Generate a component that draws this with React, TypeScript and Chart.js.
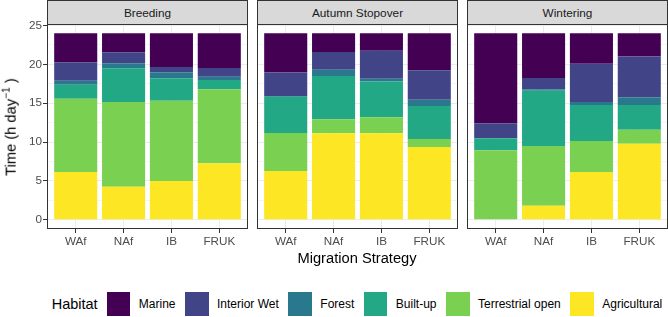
import React, { useEffect, useRef } from 'react';
import { Chart, registerables } from 'chart.js';

Chart.register(...registerables);

// ---------- data ----------
const seasons = ['Breeding', 'Autumn Stopover', 'Wintering'];
const strategies = ['WAf', 'NAf', 'IB', 'FRUK'];
const habitats = ['Marine', 'Interior Wet', 'Forest', 'Built-up', 'Terrestrial open', 'Agricultural'];
const habitatColors = ['#440154', '#414487', '#2A788E', '#22A884', '#7AD151', '#FDE725'];

// hours per day, [season][strategy]
const marine = [
  [3.74, 2.45, 4.33, 4.46],
  [5.06, 2.40, 2.23, 4.76],
  [11.59, 5.75, 3.91, 3.00],
];
const interiorWet = [
  [2.36, 1.41, 0.69, 1.12],
  [3.02, 2.28, 3.61, 3.78],
  [1.88, 1.46, 4.93, 5.24],
];
const forest = [
  [0.51, 0.65, 0.78, 0.43],
  [0.08, 0.82, 0.38, 0.82],
  [0.05, 0.17, 0.39, 0.99],
];
const builtUp = [
  [1.81, 4.33, 2.87, 1.20],
  [4.68, 5.58, 4.60, 4.25],
  [1.55, 7.13, 4.64, 3.18],
];
const terrestrialOpen = [
  [9.44, 10.91, 10.35, 9.53],
  [4.89, 1.80, 2.06, 1.03],
  [8.93, 7.69, 3.99, 1.80],
];
const agricultural = [
  [6.14, 4.25, 4.98, 7.26],
  [6.27, 11.12, 11.12, 9.36],
  [0.0, 1.80, 6.14, 9.79],
];

const habitatValues = [marine, interiorWet, forest, builtUp, terrestrialOpen, agricultural];

const yMajorTicks = [0, 5, 10, 15, 20, 25];
const yMinorTicks = [2.5, 7.5, 12.5, 17.5, 22.5];

// ---------- layout / style ----------
const FONT = "'Liberation Sans', Arial, Helvetica, sans-serif";
const PANEL_LEFT = [47, 257, 467];
const PANEL_W = 201;
const Y_AXIS_W = 40;
const CANVAS_H = 260;
const PLOT_TOP = 24;
const PLOT_BOTTOM = 229;

const borderPlugin = {
  id: 'panelBorder',
  afterDraw(chart: any) {
    const { ctx, chartArea } = chart;
    ctx.save();
    ctx.strokeStyle = '#333333';
    ctx.lineWidth = 1;
    ctx.strokeRect(
      Math.round(chartArea.left) + 0.5,
      Math.round(chartArea.top) + 0.5,
      Math.round(chartArea.right - chartArea.left) - 1,
      Math.round(chartArea.bottom - chartArea.top) - 1
    );
    ctx.restore();
  },
};

function Panel({ si }: { si: number }) {
  const ref = useRef<HTMLCanvasElement | null>(null);
  const yw = si === 0 ? Y_AXIS_W : 0;

  useEffect(() => {
    if (!ref.current) return;
    // stack bottom-up: Agricultural ... Marine
    const order = [5, 4, 3, 2, 1, 0];
    const datasets = order.map((h) => ({
      label: habitats[h],
      backgroundColor: habitatColors[h],
      borderWidth: 0,
      barPercentage: 0.9,
      categoryPercentage: 1.0,
      data: habitatValues[h][si].map((v, i) => ({ x: i + 1, y: v })),
    }));
    const isMajor = (v: number) => yMajorTicks.includes(v);
    const allY = [...yMajorTicks, ...yMinorTicks].sort((a, b) => a - b);

    const chart = new Chart(ref.current, {
      type: 'bar',
      data: { datasets },
      plugins: [borderPlugin],
      options: {
        animation: false,
        responsive: false,
        maintainAspectRatio: false,
        layout: { padding: { top: PLOT_TOP, left: 0, right: 0, bottom: 0 } },
        plugins: { legend: { display: false }, tooltip: { enabled: false } },
        scales: {
          x: {
            type: 'linear',
            min: 0.4,
            max: 4.6,
            stacked: true,
            offset: false,
            afterBuildTicks: (s: any) => {
              s.ticks = strategies.map((_, i) => ({ value: i + 1 }));
            },
            afterFit: (s: any) => {
              s.height = CANVAS_H - PLOT_BOTTOM;
            },
            ticks: {
              autoSkip: false,
              maxRotation: 0,
              padding: 2,
              color: '#4D4D4D',
              font: { family: FONT, size: 11.7 },
              callback: (v: any) => strategies[Math.round(Number(v)) - 1] ?? '',
            },
            grid: {
              offset: false,
              color: '#EBEBEB',
              lineWidth: 1,
              tickLength: 4,
              tickColor: '#333333',
              tickWidth: 1,
            },
            border: { display: false },
          },
          y: {
            type: 'linear',
            min: -1.2,
            max: 25.2,
            stacked: true,
            afterBuildTicks: (s: any) => {
              s.ticks = allY.map((v) => ({ value: v }));
            },
            afterFit: (s: any) => {
              s.width = yw;
            },
            ticks: {
              display: si === 0,
              autoSkip: false,
              padding: 1,
              color: '#4D4D4D',
              font: { family: FONT, size: 11.7 },
              callback: (v: any) => (isMajor(Number(v)) ? String(v) : ''),
            },
            grid: {
              color: (ctx: any) => (isMajor(ctx.tick.value) ? '#EBEBEB' : '#F5F5F5'),
              lineWidth: 1,
              drawTicks: si === 0,
              tickLength: 4,
              tickWidth: 1,
              tickColor: (ctx: any) => (isMajor(ctx.tick.value) ? '#333333' : 'rgba(0,0,0,0)'),
            },
            border: { display: false },
          },
        },
      } as any,
    });
    return () => chart.destroy();
  }, [si, yw]);

  return (
    <>
      <canvas
        ref={ref}
        width={PANEL_W + yw}
        height={CANVAS_H}
        style={{
          position: 'absolute',
          left: PANEL_LEFT[si] - yw,
          top: 0,
          width: PANEL_W + yw,
          height: CANVAS_H,
        }}
      />
      <div
        style={{
          position: 'absolute',
          left: PANEL_LEFT[si],
          top: 0,
          width: PANEL_W,
          height: 25,
          boxSizing: 'border-box',
          background: '#D9D9D9',
          border: '1px solid #333333',
          display: 'flex',
          alignItems: 'center',
          justifyContent: 'center',
          fontFamily: FONT,
          fontSize: 11.8,
          color: '#1A1A1A',
        }}
      >
        {seasons[si]}
      </div>
    </>
  );
}

export default function App() {
  return (
    <div
      style={{
        position: 'absolute',
        left: 0,
        top: 0,
        width: 668,
        height: 317,
        overflow: 'hidden',
        background: '#FFFFFF',
        fontFamily: FONT,
      }}
    >
      {seasons.map((_, si) => (
        <Panel key={si} si={si} />
      ))}

      {/* y axis title */}
      <div
        style={{
          position: 'absolute',
          left: 11,
          top: 126.5,
          transform: 'translate(-50%, -50%) rotate(-90deg)',
          whiteSpace: 'nowrap',
          fontSize: 14.7,
          color: '#000',
          lineHeight: 1,
        }}
      >
        Time (h day<sup style={{ fontSize: 10.3, verticalAlign: 'super', lineHeight: 0 }}>−1</sup> )
      </div>

      {/* x axis title */}
      <div
        style={{
          position: 'absolute',
          left: 357,
          top: 258,
          transform: 'translate(-50%, -50%)',
          whiteSpace: 'nowrap',
          fontSize: 14.7,
          color: '#000',
          lineHeight: 1,
        }}
      >
        Migration Strategy
      </div>

      {/* legend */}
      <div
        style={{
          position: 'absolute',
          left: 51.7,
          top: 292,
          height: 23.5,
          display: 'flex',
          alignItems: 'center',
          whiteSpace: 'nowrap',
        }}
      >
        <span style={{ fontSize: 14.5, color: '#000', marginRight: 9.2 }}>Habitat</span>
        {habitats.map((h, i) => (
          <span key={h} style={{ display: 'flex', alignItems: 'center', marginLeft: i === 0 ? 0 : 9.5 }}>
            <span
              style={{
                display: 'inline-block',
                width: 23.5,
                height: 23.5,
                background: habitatColors[i],
              }}
            />
            <span style={{ fontSize: 12, color: '#000', marginLeft: 8.5 }}>{h}</span>
          </span>
        ))}
      </div>
    </div>
  );
}
